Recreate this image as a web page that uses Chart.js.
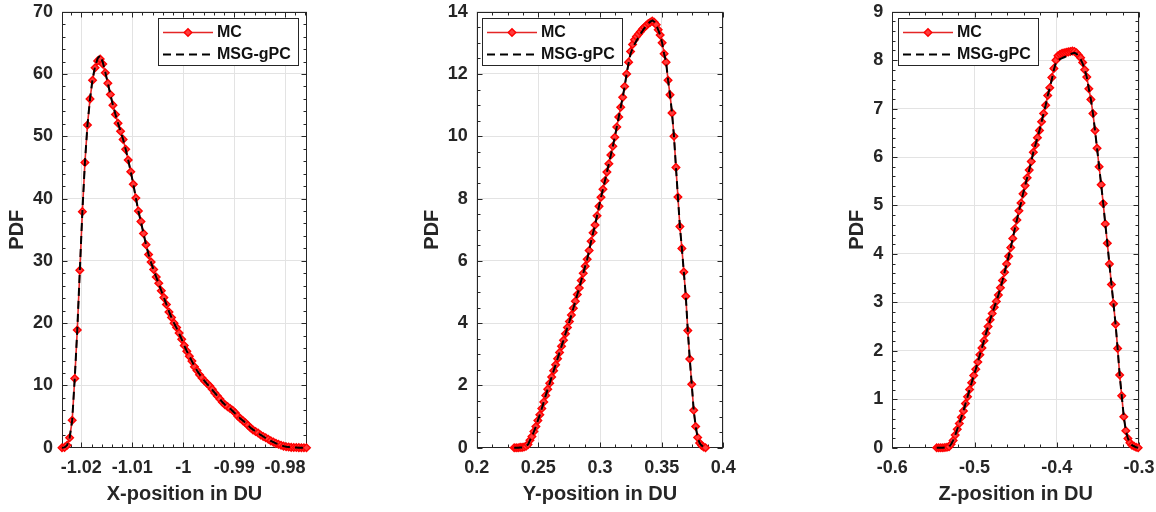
<!DOCTYPE html>
<html>
<head>
<meta charset="utf-8">
<title>PDF of X, Y, Z position</title>
<script src="https://cdn.jsdelivr.net/npm/chart.js@4.4.1/dist/chart.umd.min.js"></script>
<style>
  body { margin: 0; background: #fff; }
  #wrap { position: relative; width: 1156px; height: 512px; }
  #wrap canvas { position: absolute; left: 0; top: 0; }
</style>
</head>
<body>
<div id="wrap">
  <canvas id="chartX" width="1156" height="512"></canvas>
  <canvas id="chartY" width="1156" height="512"></canvas>
  <canvas id="chartZ" width="1156" height="512"></canvas>
</div>
<script>
// X-position panel
const xPosX = [
  -1.0238, -1.0233, -1.0228, -1.0223, -1.0218, -1.0213, -1.0208, -1.0203, -1.0198, -1.0193,
  -1.0188, -1.0183, -1.0178, -1.0173, -1.0168, -1.0163, -1.0158, -1.0153, -1.0148, -1.0143,
  -1.0138, -1.0133, -1.0128, -1.0123, -1.0118, -1.0113, -1.0108, -1.0103, -1.0098, -1.0093,
  -1.0088, -1.0083, -1.0078, -1.0073, -1.0068, -1.0063, -1.0058, -1.0053, -1.0048, -1.0043,
  -1.0038, -1.0033, -1.0028, -1.0023, -1.0018, -1.0013, -1.0008, -1.0003, -0.9998, -0.9993,
  -0.9988, -0.9983, -0.9978, -0.9973, -0.9968, -0.9963, -0.9958, -0.9953, -0.9948, -0.9943,
  -0.9938, -0.9933, -0.9928, -0.9923, -0.9918, -0.9913, -0.9908, -0.9903, -0.9898, -0.9893,
  -0.9888, -0.9883, -0.9878, -0.9873, -0.9868, -0.9863, -0.9858, -0.9853, -0.9848, -0.9843,
  -0.9838, -0.9833, -0.9828, -0.9823, -0.9818, -0.9813, -0.9808, -0.9803, -0.9798, -0.9793,
  -0.9788, -0.9783, -0.9778, -0.9773, -0.9768, -0.9763, -0.9758
];
const mcX = [
  0, 0.05, 0.4, 1.6, 4.4, 11.1, 18.9, 28.5, 37.9, 45.8,
  51.8, 56.0, 59.0, 61.0, 62.1, 62.4, 61.6, 60.2, 58.5, 56.7,
  55.0, 53.5, 52.1, 50.8, 49.5, 47.9, 46.2, 44.3, 42.3, 40.1,
  38.0, 36.3, 34.4, 32.6, 31.0, 29.8, 28.6, 27.4, 26.4, 25.2,
  24.1, 23.0, 21.8, 20.9, 20.0, 19.3, 18.4, 17.4, 16.4, 15.5,
  14.7, 13.9, 13.0, 12.4, 11.7, 11.2, 10.7, 10.3, 9.9, 9.4,
  8.8, 8.3, 7.8, 7.3, 6.9, 6.6, 6.3, 6.0, 5.6, 5.1,
  4.7, 4.35, 4.0, 3.6, 3.2, 2.85, 2.6, 2.35, 2.05, 1.8,
  1.6, 1.35, 1.1, 0.9, 0.7, 0.55, 0.4, 0.25, 0.15, 0.1,
  0.05, 0.03, 0.02, 0.01, 0, 0, 0
];
const gpcX = [
  0, 0.05, 0.4, 1.6, 4.4, 11.1, 18.9, 28.5, 37.9, 45.8,
  51.8, 56.0, 59.2, 61.2, 62.5, 63.0, 61.9, 60.3, 58.5, 56.7,
  55.0, 53.5, 52.1, 50.8, 49.5, 47.9, 46.2, 44.3, 42.3, 40.1,
  38.0, 36.2, 34.4, 32.6, 31.0, 29.7, 28.5, 27.4, 26.3, 25.2,
  24.1, 23.0, 21.9, 20.9, 20.0, 19.2, 18.3, 17.4, 16.4, 15.5,
  14.7, 13.9, 13.1, 12.4, 11.8, 11.2, 10.7, 10.2, 9.8, 9.3,
  8.8, 8.3, 7.8, 7.3, 6.9, 6.6, 6.3, 5.9, 5.5, 5.1,
  4.7, 4.35, 4.0, 3.6, 3.2, 2.9, 2.6, 2.3, 2.05, 1.8,
  1.55, 1.3, 1.1, 0.9, 0.7, 0.55, 0.4, 0.25, 0.15, 0.1,
  0.05, 0.03, 0.02, 0.01, 0, 0, 0
];
const xTicksX = [-1.02, -1.01, -1, -0.99, -0.98];
const xTickLabelsX = ['-1.02', '-1.01', '-1', '-0.99', '-0.98'];
const yTicksX = [0, 10, 20, 30, 40, 50, 60, 70];

// Y-position panel
const xPosY = [
  0.2304, 0.2320, 0.2336, 0.2352, 0.2368, 0.2384, 0.2400, 0.2416, 0.2432, 0.2448,
  0.2464, 0.2480, 0.2496, 0.2512, 0.2528, 0.2544, 0.2560, 0.2576, 0.2592, 0.2608,
  0.2624, 0.2640, 0.2656, 0.2672, 0.2688, 0.2704, 0.2720, 0.2736, 0.2752, 0.2768,
  0.2784, 0.2800, 0.2816, 0.2832, 0.2848, 0.2864, 0.2880, 0.2896, 0.2912, 0.2928,
  0.2944, 0.2960, 0.2976, 0.2992, 0.3008, 0.3024, 0.3040, 0.3056, 0.3072, 0.3088,
  0.3104, 0.3120, 0.3136, 0.3152, 0.3168, 0.3184, 0.3200, 0.3216, 0.3232, 0.3248,
  0.3264, 0.3280, 0.3296, 0.3312, 0.3328, 0.3344, 0.3360, 0.3376, 0.3392, 0.3408,
  0.3424, 0.3440, 0.3456, 0.3472, 0.3488, 0.3504, 0.3520, 0.3536, 0.3552, 0.3568,
  0.3584, 0.3600, 0.3616, 0.3632, 0.3648, 0.3664, 0.3680, 0.3696, 0.3712, 0.3728,
  0.3744, 0.3760, 0.3776, 0.3792, 0.3808, 0.3824, 0.3840, 0.3856
];
const mcY = [
  0, 0, 0, 0.01, 0.01, 0.02, 0.05, 0.1, 0.24, 0.36,
  0.52, 0.68, 0.87, 1.06, 1.26, 1.47, 1.68, 1.88, 2.07, 2.27,
  2.47, 2.66, 2.86, 3.06, 3.26, 3.45, 3.66, 3.86, 4.05, 4.26,
  4.48, 4.7, 4.92, 5.13, 5.37, 5.6, 5.83, 6.05, 6.33, 6.63,
  6.9, 7.15, 7.45, 7.75, 8.04, 8.3, 8.57, 8.85, 9.12, 9.4,
  9.68, 9.97, 10.3, 10.62, 10.93, 11.25, 11.6, 12.0, 12.38, 12.72,
  12.95, 13.1, 13.2, 13.28, 13.36, 13.44, 13.5, 13.56, 13.62, 13.66,
  13.7, 13.66, 13.58, 13.42, 13.25, 13.0, 12.65, 12.38, 11.8, 11.33,
  10.75, 10.0, 9.0, 8.05, 7.1, 6.4, 5.64, 4.86, 3.76, 2.85,
  2.04, 1.2, 0.68, 0.33, 0.15, 0.07, 0.02, 0
];
const gpcY = [
  0, 0, 0, 0.01, 0.01, 0.02, 0.05, 0.1, 0.24, 0.36,
  0.52, 0.68, 0.87, 1.06, 1.26, 1.47, 1.68, 1.88, 2.07, 2.27,
  2.47, 2.66, 2.86, 3.06, 3.26, 3.45, 3.66, 3.86, 4.05, 4.26,
  4.48, 4.7, 4.92, 5.13, 5.37, 5.6, 5.83, 6.05, 6.33, 6.63,
  6.9, 7.15, 7.45, 7.75, 8.04, 8.3, 8.57, 8.85, 9.12, 9.4,
  9.68, 9.97, 10.3, 10.62, 10.93, 11.25, 11.6, 12.0, 12.35, 12.65,
  12.82, 12.95, 13.07, 13.18, 13.28, 13.38, 13.47, 13.55, 13.62, 13.68,
  13.72, 13.68, 13.58, 13.42, 13.25, 13.0, 12.65, 12.38, 11.8, 11.33,
  10.75, 10.0, 9.0, 8.05, 7.1, 6.4, 5.64, 4.86, 3.76, 2.85,
  2.04, 1.2, 0.68, 0.33, 0.15, 0.07, 0.02, 0
];
const xTicksY = [0.2, 0.25, 0.3, 0.35, 0.4];
const xTickLabelsY = ['0.2', '0.25', '0.3', '0.35', '0.4'];
const yTicksY = [0, 2, 4, 6, 8, 10, 12, 14];

// Z-position panel
const xPosZ = [
  -0.5460, -0.5435, -0.5410, -0.5385, -0.5360, -0.5335, -0.5310, -0.5285, -0.5260, -0.5235,
  -0.5210, -0.5185, -0.5160, -0.5135, -0.5110, -0.5085, -0.5060, -0.5035, -0.5010, -0.4985,
  -0.4960, -0.4935, -0.4910, -0.4885, -0.4860, -0.4835, -0.4810, -0.4785, -0.4760, -0.4735,
  -0.4710, -0.4685, -0.4660, -0.4635, -0.4610, -0.4585, -0.4560, -0.4535, -0.4510, -0.4485,
  -0.4460, -0.4435, -0.4410, -0.4385, -0.4360, -0.4335, -0.4310, -0.4285, -0.4260, -0.4235,
  -0.4210, -0.4185, -0.4160, -0.4135, -0.4110, -0.4085, -0.4060, -0.4035, -0.4010, -0.3985,
  -0.3960, -0.3935, -0.3910, -0.3885, -0.3860, -0.3835, -0.3810, -0.3785, -0.3760, -0.3735,
  -0.3710, -0.3685, -0.3660, -0.3635, -0.3610, -0.3585, -0.3560, -0.3535, -0.3510, -0.3485,
  -0.3460, -0.3435, -0.3410, -0.3385, -0.3360, -0.3335, -0.3310, -0.3285, -0.3260, -0.3235,
  -0.3210, -0.3185, -0.3160, -0.3135, -0.3110, -0.3085, -0.3060, -0.3035, -0.3010
];
const mcZ = [
  0, 0, 0, 0, 0.005, 0.01, 0.02, 0.07, 0.15, 0.26,
  0.38, 0.5, 0.63, 0.76, 0.91, 1.05, 1.2, 1.34, 1.49, 1.62,
  1.77, 1.92, 2.06, 2.21, 2.36, 2.5, 2.64, 2.77, 2.9, 3.02,
  3.15, 3.3, 3.45, 3.62, 3.79, 3.95, 4.13, 4.32, 4.52, 4.7,
  4.89, 5.05, 5.24, 5.41, 5.57, 5.73, 5.91, 6.1, 6.25, 6.4,
  6.55, 6.73, 6.9, 7.07, 7.27, 7.43, 7.64, 7.83, 8.0, 8.09,
  8.12, 8.14, 8.15, 8.16, 8.17, 8.18, 8.19, 8.18, 8.15, 8.1,
  8.05, 7.95, 7.8, 7.65, 7.41, 7.19, 6.9, 6.55, 6.18, 5.8,
  5.43, 5.04, 4.62, 4.22, 3.79, 3.37, 2.97, 2.55, 2.05, 1.5,
  1.07, 0.64, 0.35, 0.19, 0.1, 0.05, 0.03, 0.01, 0
];
const gpcZ = [
  0, 0, 0, 0, 0.005, 0.01, 0.02, 0.07, 0.15, 0.26,
  0.38, 0.5, 0.63, 0.76, 0.91, 1.05, 1.2, 1.34, 1.49, 1.62,
  1.77, 1.92, 2.06, 2.21, 2.36, 2.5, 2.64, 2.77, 2.9, 3.02,
  3.15, 3.3, 3.45, 3.62, 3.79, 3.95, 4.13, 4.32, 4.52, 4.7,
  4.89, 5.05, 5.24, 5.41, 5.57, 5.73, 5.91, 6.1, 6.25, 6.4,
  6.55, 6.73, 6.9, 7.07, 7.27, 7.43, 7.6, 7.8, 7.95, 8.0,
  8.02, 8.04, 8.06, 8.08, 8.1, 8.12, 8.14, 8.15, 8.13, 8.08,
  8.02, 7.93, 7.8, 7.65, 7.41, 7.19, 6.9, 6.55, 6.18, 5.8,
  5.43, 5.04, 4.62, 4.22, 3.79, 3.37, 2.97, 2.55, 2.05, 1.5,
  1.07, 0.64, 0.35, 0.19, 0.1, 0.05, 0.03, 0.01, 0
];
const xTicksZ = [-0.6, -0.5, -0.4, -0.3];
const xTickLabelsZ = ['-0.6', '-0.5', '-0.4', '-0.3'];
const yTicksZ = [0, 1, 2, 3, 4, 5, 6, 7, 8, 9];

const FONT = "'Liberation Sans', Arial, sans-serif";
const INK = '#262626';

// box, grid-side ticks and minor ticks on all four sides (matlab style)
const axesFrame = {
  id: 'axesFrame',
  beforeDatasetsDraw(chart, args, opts) {
    const { ctx, chartArea: a, scales } = chart;
    const xs = scales.x, ys = scales.y;
    const L = Math.round(a.left) + 0.5, R = Math.round(a.right) - 0.5;
    const T = Math.round(a.top) + 0.5, B = Math.round(a.bottom) - 0.5;

    function steps(min, max, step) {
      const out = [];
      const i0 = Math.ceil(min / step - 1e-6), i1 = Math.floor(max / step + 1e-6);
      for (let i = i0; i <= i1; i++) out.push(i * step);
      return out;
    }

    ctx.save();
    ctx.strokeStyle = INK;
    ctx.lineWidth = 1;
    ctx.beginPath();
    const xTick = (v, len) => {
      const p = Math.round(xs.getPixelForValue(v)) + 0.5;
      ctx.moveTo(p, B); ctx.lineTo(p, B - len);
      ctx.moveTo(p, T); ctx.lineTo(p, T + len);
    };
    const yTick = (v, len) => {
      const p = Math.round(ys.getPixelForValue(v)) + 0.5;
      ctx.moveTo(L, p); ctx.lineTo(L + len, p);
      ctx.moveTo(R, p); ctx.lineTo(R - len, p);
    };
    steps(xs.min, xs.max, opts.xMinor).forEach(v => xTick(v, 3));
    steps(ys.min, ys.max, opts.yMinor).forEach(v => yTick(v, 3));
    xs.ticks.forEach(t => xTick(t.value, 5));
    ys.ticks.forEach(t => yTick(t.value, 5));
    ctx.stroke();
    ctx.strokeRect(L, T, R - L, B - T);
    ctx.restore();
  }
};

// boxed legend inside the axes
const boxLegend = {
  id: 'boxLegend',
  afterDraw(chart, args, opts) {
    const { ctx } = chart;
    const { x, y, w, h } = opts;
    ctx.save();
    ctx.fillStyle = '#fff';
    ctx.fillRect(x, y, w, h);
    ctx.strokeStyle = INK;
    ctx.lineWidth = 1;
    ctx.strokeRect(x + 0.5, y + 0.5, w, h);

    const mc = chart.data.datasets.find(d => d.label === 'MC');
    const gpc = chart.data.datasets.find(d => d.label === 'MSG-gPC');
    [mc, gpc].forEach((ds, i) => {
      const cy = y + 14.5 + i * 22;
      ctx.beginPath();
      ctx.setLineDash(ds.borderDash || []);
      ctx.lineWidth = ds.borderWidth;
      ctx.strokeStyle = ds.borderColor;
      ctx.moveTo(x + 5, cy);
      ctx.lineTo(x + 55, cy);
      ctx.stroke();
      ctx.setLineDash([]);
      if (ds.pointRadius > 0) {
        const r = ds.pointRadius, mx = x + 30;
        ctx.beginPath();
        ctx.moveTo(mx - r, cy); ctx.lineTo(mx, cy - r);
        ctx.lineTo(mx + r, cy); ctx.lineTo(mx, cy + r);
        ctx.closePath();
        ctx.fillStyle = ds.pointBackgroundColor;
        ctx.fill();
        ctx.lineWidth = ds.pointBorderWidth;
        ctx.strokeStyle = ds.pointBorderColor;
        ctx.stroke();
      }
      ctx.fillStyle = '#111';
      ctx.font = 'bold 16px ' + FONT;
      ctx.textBaseline = 'middle';
      ctx.textAlign = 'left';
      ctx.fillText(ds.label, x + 59, cy + 0.5);
    });
    ctx.restore();
  }
};

function pairs(xs, ys) {
  return xs.map((x, i) => ({ x: x, y: ys[i] }));
}

function makePanel(id, p) {
  return new Chart(document.getElementById(id), {
    type: 'line',
    data: {
      datasets: [
        {
          label: 'MC',
          data: pairs(p.xs, p.mc),
          borderColor: 'rgb(228,38,38)',
          borderWidth: 1.6,
          pointStyle: 'rectRot',
          pointRadius: 3.8,
          pointBorderWidth: 1.4,
          pointBorderColor: '#ff0000',
          pointBackgroundColor: '#ff3c3c',
          order: 2,
          clip: false
        },
        {
          label: 'MSG-gPC',
          data: pairs(p.xs, p.gpc),
          borderColor: '#000',
          borderWidth: 2,
          borderDash: [8, 5],
          pointRadius: 0,
          order: 1,
          clip: false
        }
      ]
    },
    options: {
      responsive: false,
      animation: false,
      events: [],
      layout: { padding: { left: p.padLeft, right: p.padRight, top: 11.7, bottom: 6 } },
      elements: { line: { tension: 0 } },
      plugins: {
        legend: { display: false },
        tooltip: { enabled: false },
        axesFrame: { xMinor: p.xMinor, yMinor: p.yMinor },
        boxLegend: p.legend
      },
      scales: {
        x: {
          type: 'linear',
          min: p.xMin,
          max: p.xMax,
          afterBuildTicks: s => { s.ticks = p.xTicks.map(v => ({ value: v })); },
          afterFit: s => { s.height = 58.3; s.paddingLeft = 0; s.paddingRight = 0; },
          ticks: {
            autoSkip: false,
            maxRotation: 0,
            padding: 10,
            color: INK,
            font: { family: FONT, size: 18, weight: 'bold' },
            callback: (v, i) => p.xTickLabels[i]
          },
          grid: { color: '#e3e3e3', drawTicks: false },
          border: { display: false },
          title: {
            display: true,
            text: p.xTitle,
            color: INK,
            padding: 0,
            font: { family: FONT, size: 20, weight: 'bold' }
          }
        },
        y: {
          min: p.yTicks[0],
          max: p.yTicks[p.yTicks.length - 1],
          afterBuildTicks: s => { s.ticks = p.yTicks.map(v => ({ value: v })); },
          afterFit: s => { s.width = p.yWidth; s.paddingTop = 0; s.paddingBottom = 0; },
          ticks: {
            padding: 9,
            color: INK,
            font: { family: FONT, size: 18, weight: 'bold' },
            callback: v => String(v)
          },
          grid: { color: '#e3e3e3', drawTicks: false },
          border: { display: false },
          title: {
            display: true,
            text: 'PDF',
            color: INK,
            padding: 0,
            font: { family: FONT, size: 20, weight: 'bold' }
          }
        }
      }
    },
    plugins: [axesFrame, boxLegend]
  });
}

makePanel('chartX', {
  xs: xPosX, mc: mcX, gpc: gpcX,
  xMin: -1.0238, xMax: -0.9757, xTicks: xTicksX, xTickLabels: xTickLabelsX,
  yTicks: yTicksX, xMinor: 0.002, yMinor: 2,
  xTitle: 'X-position in DU',
  padLeft: 5.5, padRight: 849, yWidth: 56.5,
  legend: { x: 158, y: 18, w: 140, h: 47 }
});

makePanel('chartY', {
  xs: xPosY, mc: mcY, gpc: gpcY,
  xMin: 0.2, xMax: 0.4, xTicks: xTicksY, xTickLabels: xTickLabelsY,
  yTicks: yTicksY, xMinor: 0.0125, yMinor: 0.5,
  xTitle: 'Y-position in DU',
  padLeft: 420.5, padRight: 432.7, yWidth: 56.2,
  legend: { x: 482, y: 18, w: 140, h: 47 }
});

makePanel('chartZ', {
  xs: xPosZ, mc: mcZ, gpc: gpcZ,
  xMin: -0.6, xMax: -0.3, xTicks: xTicksZ, xTickLabels: xTickLabelsZ,
  yTicks: yTicksZ, xMinor: 0.02, yMinor: 0.2,
  xTitle: 'Z-position in DU',
  padLeft: 845.5, padRight: 17, yWidth: 46.8,
  legend: { x: 898, y: 18, w: 140, h: 47 }
});
</script>
</body>
</html>
